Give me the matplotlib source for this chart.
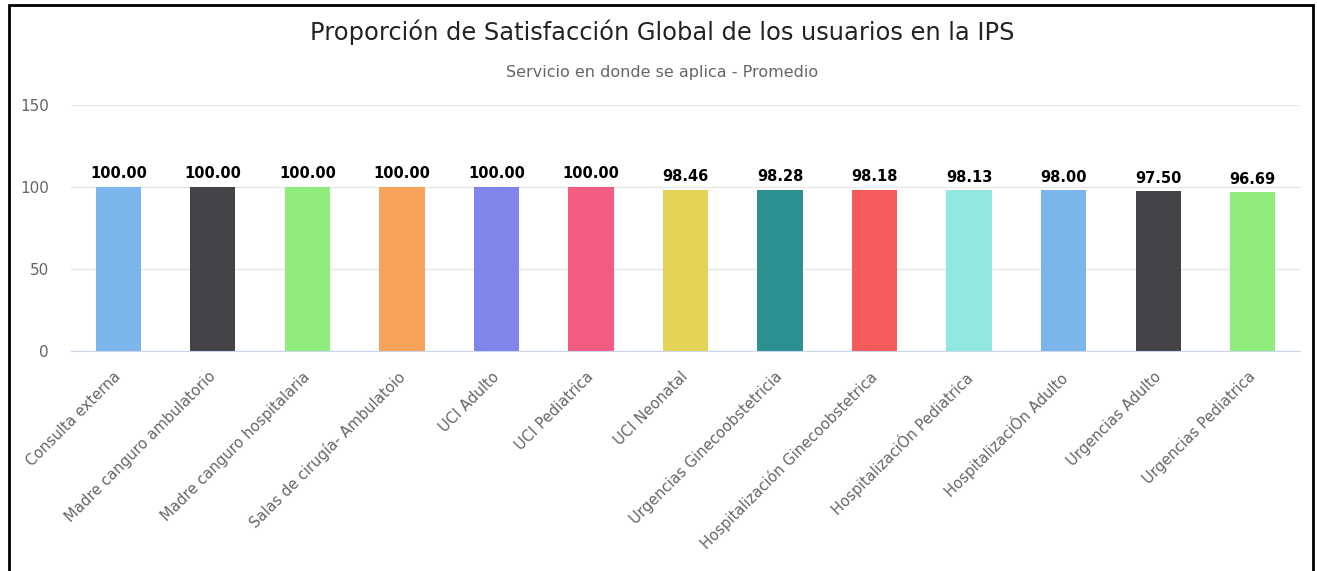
import matplotlib.pyplot as plt
from matplotlib.patches import Rectangle
from matplotlib.transforms import ScaledTranslation

plt.rcParams['font.family'] = ['DejaVu Sans']

# data
categories = ["Consulta externa", "Madre canguro ambulatorio", "Madre canguro hospitalaria",
              "Salas de cirugía- Ambulatoio", "UCI Adulto", "UCI Pediatrica", "UCI Neonatal",
              "Urgencias Ginecoobstetricia", "Hospitalización Ginecoobstetrica",
              "HospitalizaciÓn Pediatrica", "HospitalizaciÓn Adulto", "Urgencias Adulto",
              "Urgencias Pediatrica"]
values = [100.00, 100.00, 100.00, 100.00, 100.00, 100.00, 98.46, 98.28, 98.18, 98.13, 98.00, 97.50, 96.69]
yticks = [0, 50, 100, 150]
colors = ["#7cb5ec", "#434348", "#90ed7d", "#f7a35c", "#8085e9", "#f15c80", "#e4d354",
          "#2b908f", "#f45b5b", "#91e8e1", "#7cb5ec", "#434348", "#90ed7d"]

W, H = 1317, 571
fig = plt.figure(figsize=(W / 100, H / 100), dpi=100)
ax = fig.add_axes([71 / W, 1 - 351 / H, (1300 - 71) / W, (351 - 105) / H])

x = range(len(categories))
ax.bar(x, values, width=0.48, color=colors, zorder=3)
for i, v in enumerate(values):
    ax.annotate("%.2f" % v, (i, v), xytext=(0, 4), textcoords="offset points",
                ha="center", va="bottom", fontsize=10.5, fontweight="bold", color="black", zorder=4)

ax.set_xlim(-0.5, len(categories) - 0.5)
ax.set_ylim(0, 150)
ax.set_yticks(yticks)
ax.yaxis.grid(True, color="#e6e6e6", linewidth=1, zorder=0)
ax.tick_params(axis="y", length=0, pad=16, labelsize=11, labelcolor="#666666")
ax.tick_params(axis="x", length=0, pad=13)
ax.set_xticks(list(x))
ax.set_xticklabels(categories, rotation=45, ha="right", rotation_mode="anchor",
                   fontsize=10.6, color="#666666")
shift = ScaledTranslation(-5 / 100, 0, fig.dpi_scale_trans)
for lab in ax.get_xticklabels():
    lab.set_transform(lab.get_transform() + shift)
for s in ["top", "right", "left"]:
    ax.spines[s].set_visible(False)
ax.spines["bottom"].set_color("#ccd6eb")
ax.spines["bottom"].set_zorder(5)

fig.text(662 / W, 1 - 32 / H, "Proporción de Satisfacción Global de los usuarios en la IPS",
         ha="center", va="center", fontsize=17.4, color="#222222")
fig.text(662 / W, 1 - 73 / H, "Servicio en donde se aplica - Promedio",
         ha="center", va="center", fontsize=11.5, color="#666666")

# black frame (bottom edge is cut off)
fig.patches.append(Rectangle((9 / W, -0.1), (1313 - 9) / W, 1.1 - 5 / H,
                             transform=fig.transFigure, fill=False,
                             edgecolor="black", linewidth=2, clip_on=False))

fig.savefig("out.png", dpi=100)
